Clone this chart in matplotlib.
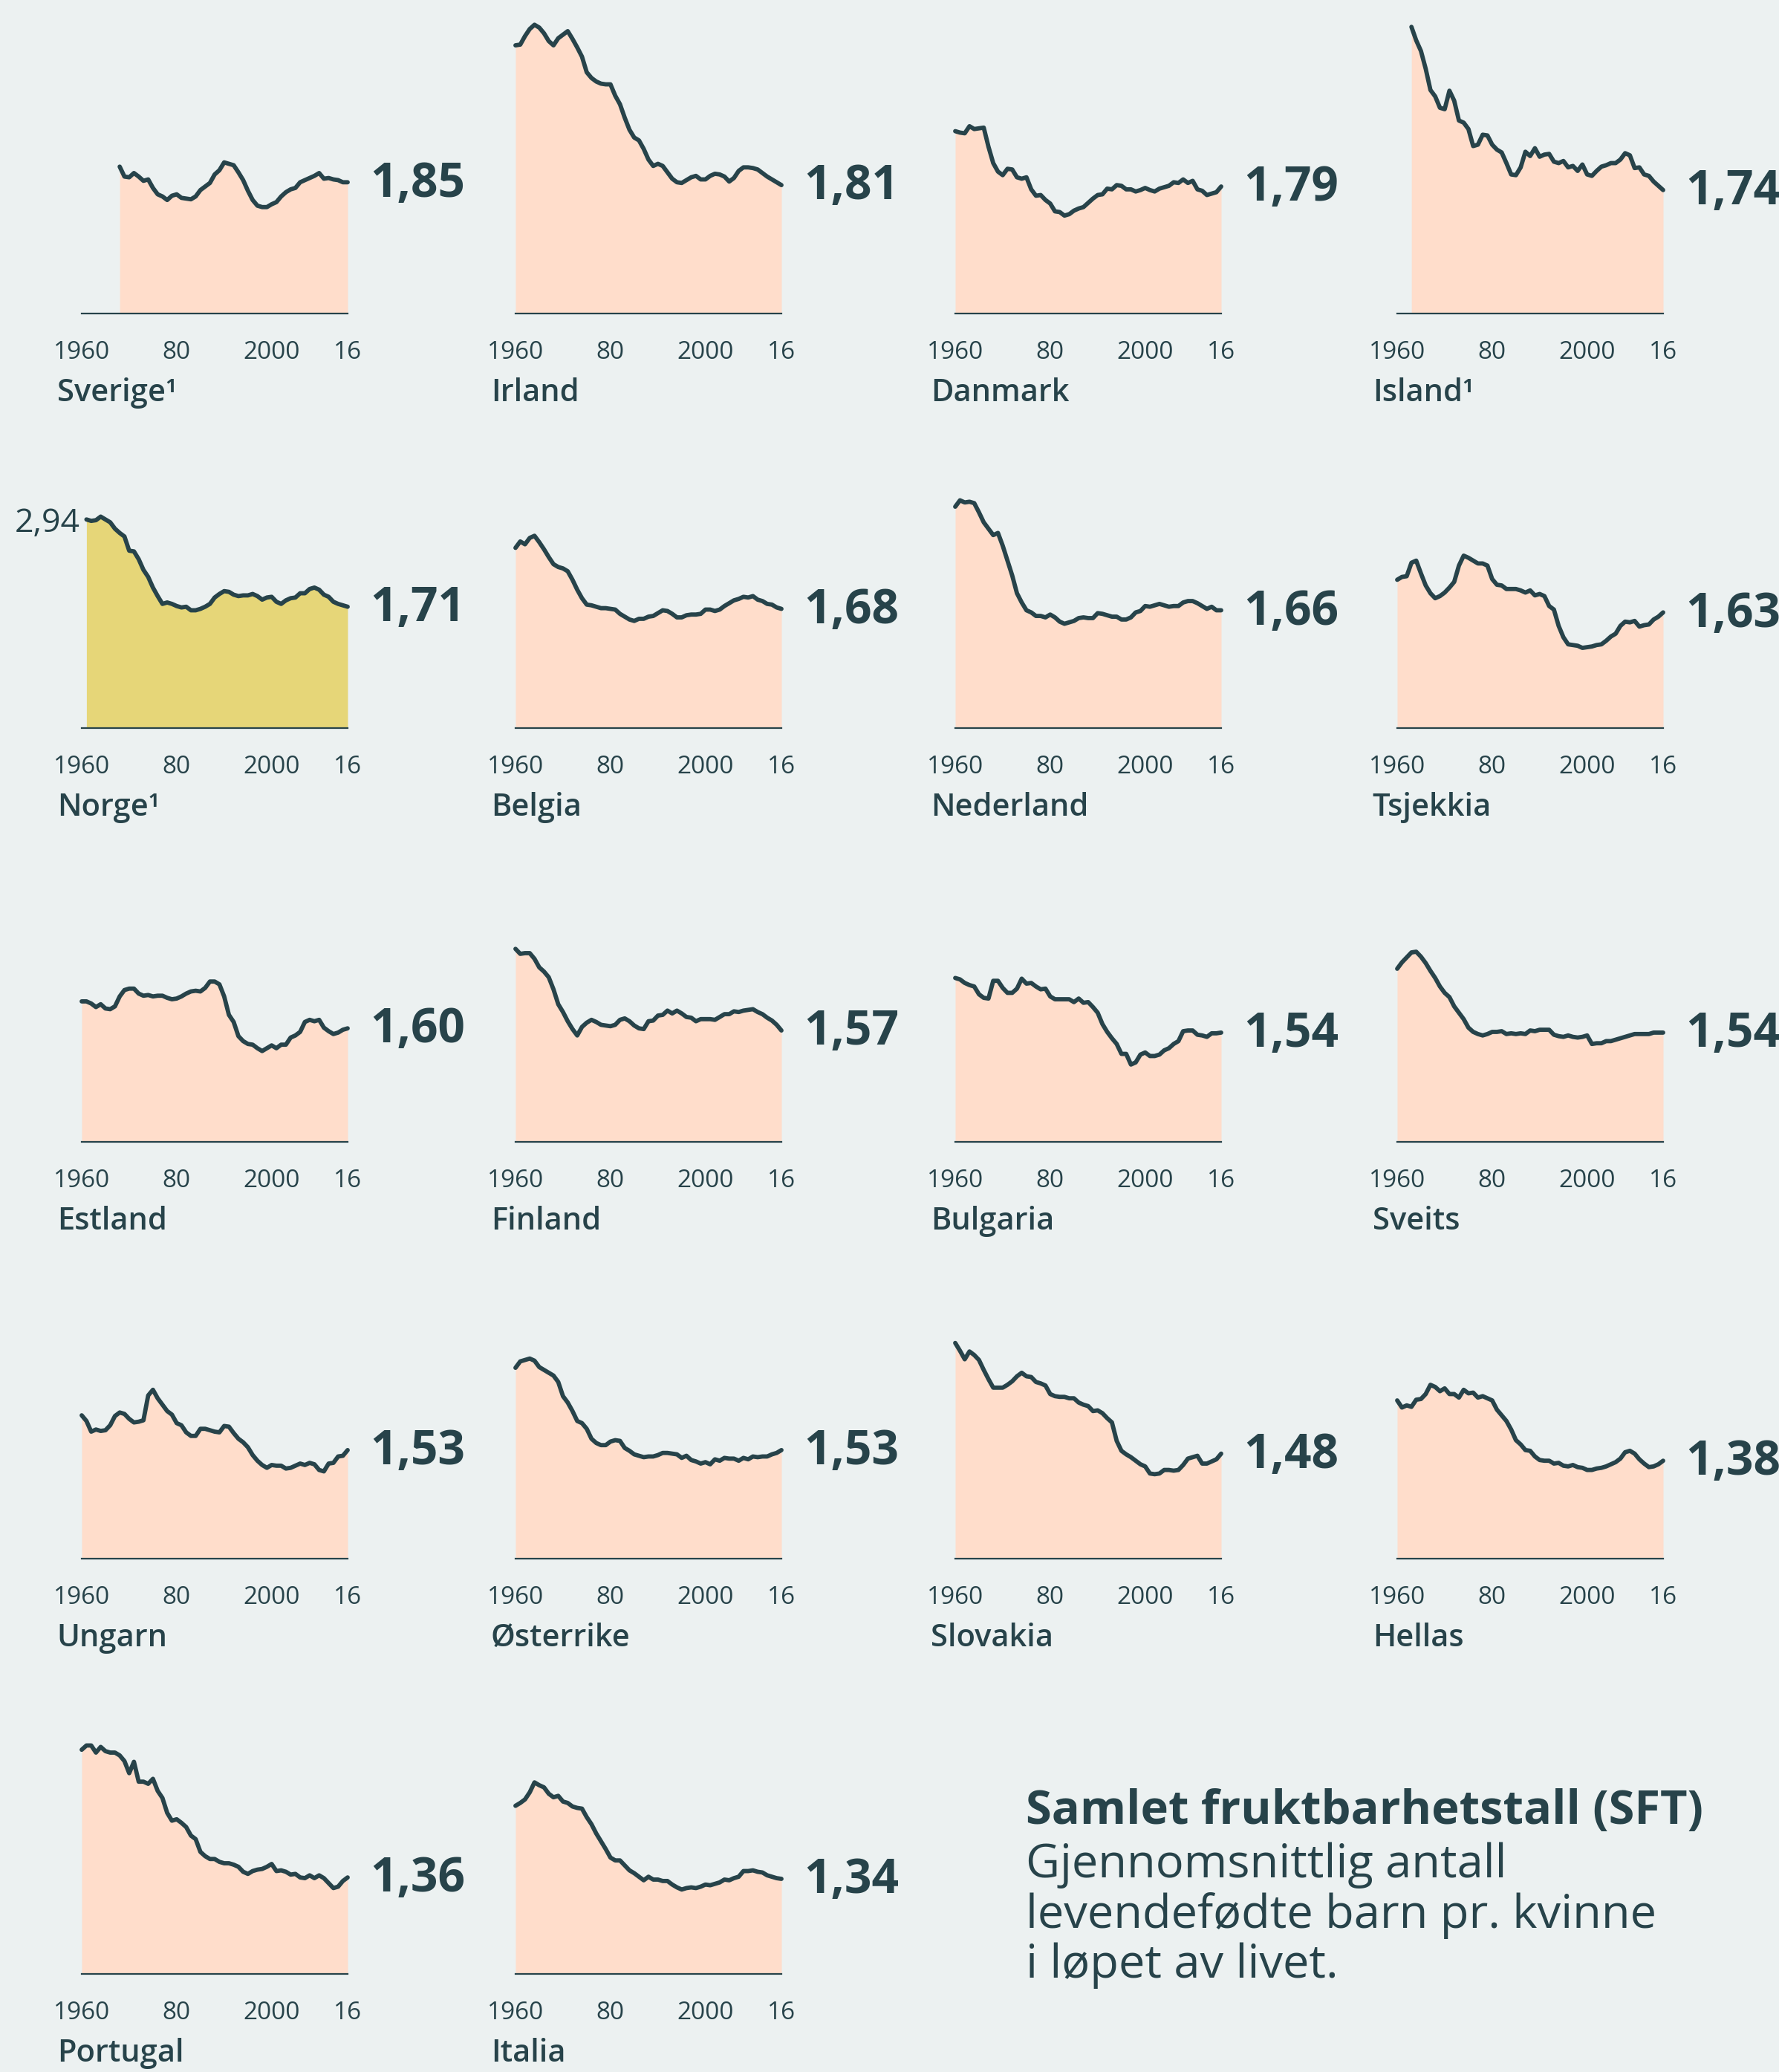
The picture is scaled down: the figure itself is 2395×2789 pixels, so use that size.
import matplotlib
matplotlib.use("Agg")
import matplotlib.pyplot as plt

# Samlet fruktbarhetstall (SFT), 1960-2016
countries = ["Sverige¹", "Irland", "Danmark", "Island¹",
             "Norge¹", "Belgia", "Nederland", "Tsjekkia",
             "Estland", "Finland", "Bulgaria", "Sveits",
             "Ungarn", "Østerrike", "Slovakia", "Hellas",
             "Portugal", "Italia"]

start_years = [1968, 1960, 1960, 1963,
               1961, 1960, 1960, 1960,
               1960, 1960, 1960, 1960,
               1960, 1960, 1960, 1960,
               1960, 1960]

sverige = [2.07, 1.93, 1.92, 1.98, 1.93, 1.87, 1.89, 1.77, 1.68, 1.65, 1.60, 1.66, 1.68,
           1.63, 1.62, 1.61, 1.65, 1.74, 1.79, 1.84, 1.96, 2.02, 2.13, 2.11, 2.09, 1.99,
           1.88, 1.73, 1.60, 1.52, 1.50, 1.50, 1.54, 1.57, 1.65, 1.71, 1.75, 1.77, 1.85,
           1.88, 1.91, 1.94, 1.98, 1.90, 1.91, 1.89, 1.88, 1.85, 1.85]
irland = [3.78, 3.79, 3.91, 4.01, 4.07, 4.03, 3.95, 3.84, 3.78, 3.88, 3.93, 3.98, 3.87,
          3.75, 3.62, 3.40, 3.32, 3.27, 3.24, 3.23, 3.23, 3.07, 2.95, 2.76, 2.59, 2.48,
          2.44, 2.32, 2.17, 2.08, 2.11, 2.08, 1.99, 1.90, 1.85, 1.84, 1.88, 1.92, 1.94,
          1.89, 1.89, 1.94, 1.97, 1.96, 1.93, 1.86, 1.91, 2.01, 2.06, 2.06, 2.05, 2.03,
          1.98, 1.93, 1.89, 1.85, 1.81]
danmark = [2.57, 2.55, 2.54, 2.64, 2.60, 2.61, 2.62, 2.35, 2.12, 2.00, 1.95, 2.04, 2.03,
           1.92, 1.90, 1.92, 1.75, 1.66, 1.67, 1.60, 1.55, 1.44, 1.43, 1.38, 1.40, 1.45,
           1.48, 1.50, 1.56, 1.62, 1.67, 1.68, 1.76, 1.75, 1.81, 1.80, 1.75, 1.75, 1.72,
           1.74, 1.77, 1.74, 1.72, 1.76, 1.78, 1.80, 1.85, 1.84, 1.89, 1.84, 1.87, 1.75,
           1.73, 1.67, 1.69, 1.71, 1.79]
island = [4.04, 3.85, 3.70, 3.45, 3.15, 3.06, 2.90, 2.88, 3.14, 3.00, 2.72, 2.69, 2.60,
          2.36, 2.38, 2.52, 2.51, 2.38, 2.31, 2.27, 2.12, 1.96, 1.95, 2.06, 2.28, 2.22,
          2.33, 2.21, 2.24, 2.25, 2.14, 2.12, 2.15, 2.06, 2.08, 2.01, 2.10, 1.96, 1.94,
          2.01, 2.07, 2.09, 2.12, 2.12, 2.17, 2.26, 2.23, 2.05, 2.06, 1.96, 1.94, 1.86,
          1.80, 1.74]
norge = [2.94, 2.92, 2.93, 2.98, 2.94, 2.90, 2.81, 2.75, 2.70, 2.50, 2.49, 2.38, 2.23,
         2.13, 1.98, 1.86, 1.75, 1.77, 1.75, 1.72, 1.70, 1.71, 1.66, 1.66, 1.68, 1.71,
         1.75, 1.84, 1.89, 1.93, 1.92, 1.88, 1.86, 1.87, 1.87, 1.89, 1.86, 1.81, 1.84,
         1.85, 1.78, 1.75, 1.80, 1.83, 1.84, 1.90, 1.90, 1.96, 1.98, 1.95, 1.88, 1.85,
         1.78, 1.75, 1.73, 1.71]
belgia = [2.54, 2.63, 2.59, 2.68, 2.71, 2.62, 2.52, 2.41, 2.31, 2.27, 2.25, 2.21, 2.09,
          1.95, 1.83, 1.74, 1.73, 1.71, 1.69, 1.69, 1.68, 1.67, 1.61, 1.57, 1.53, 1.51,
          1.54, 1.54, 1.57, 1.58, 1.62, 1.66, 1.65, 1.61, 1.56, 1.56, 1.59, 1.60, 1.60,
          1.61, 1.67, 1.67, 1.65, 1.67, 1.72, 1.76, 1.80, 1.82, 1.85, 1.84, 1.86, 1.81,
          1.79, 1.75, 1.74, 1.70, 1.68]
nederland = [3.12, 3.21, 3.18, 3.19, 3.17, 3.04, 2.90, 2.81, 2.72, 2.75, 2.57, 2.36, 2.15,
             1.90, 1.77, 1.66, 1.63, 1.58, 1.58, 1.56, 1.60, 1.56, 1.50, 1.47, 1.49, 1.51,
             1.55, 1.56, 1.55, 1.55, 1.62, 1.61, 1.59, 1.57, 1.57, 1.53, 1.53, 1.56, 1.63,
             1.65, 1.72, 1.71, 1.73, 1.75, 1.73, 1.71, 1.72, 1.72, 1.77, 1.79, 1.79, 1.76,
             1.72, 1.68, 1.71, 1.66, 1.66]
tsjekkia = [2.09, 2.13, 2.14, 2.33, 2.36, 2.18, 2.01, 1.90, 1.83, 1.86, 1.91, 1.98, 2.06,
            2.29, 2.43, 2.40, 2.36, 2.32, 2.32, 2.29, 2.10, 2.02, 2.01, 1.96, 1.96, 1.96,
            1.94, 1.91, 1.94, 1.87, 1.89, 1.86, 1.72, 1.67, 1.44, 1.28, 1.18, 1.17, 1.16,
            1.13, 1.14, 1.15, 1.17, 1.18, 1.23, 1.29, 1.33, 1.44, 1.50, 1.49, 1.51, 1.43,
            1.45, 1.46, 1.53, 1.57, 1.63]
estland = [1.98, 1.98, 1.95, 1.90, 1.94, 1.88, 1.87, 1.91, 2.05, 2.14, 2.16, 2.16, 2.09,
           2.06, 2.07, 2.05, 2.06, 2.06, 2.03, 2.01, 2.02, 2.05, 2.09, 2.12, 2.13, 2.12,
           2.17, 2.26, 2.26, 2.22, 2.05, 1.79, 1.69, 1.49, 1.42, 1.38, 1.37, 1.32, 1.28,
           1.32, 1.36, 1.32, 1.37, 1.37, 1.47, 1.50, 1.55, 1.69, 1.72, 1.70, 1.72, 1.61,
           1.56, 1.52, 1.54, 1.58, 1.60]
finland = [2.72, 2.65, 2.66, 2.66, 2.58, 2.46, 2.40, 2.32, 2.15, 1.94, 1.83, 1.70, 1.59,
           1.50, 1.62, 1.68, 1.72, 1.69, 1.65, 1.64, 1.63, 1.65, 1.72, 1.74, 1.70, 1.64,
           1.60, 1.59, 1.70, 1.71, 1.78, 1.79, 1.85, 1.81, 1.85, 1.81, 1.76, 1.75, 1.70,
           1.73, 1.73, 1.73, 1.72, 1.76, 1.80, 1.80, 1.84, 1.83, 1.85, 1.86, 1.87, 1.83,
           1.80, 1.75, 1.71, 1.65, 1.57]
bulgaria = [2.31, 2.29, 2.24, 2.21, 2.19, 2.08, 2.03, 2.02, 2.27, 2.27, 2.17, 2.10, 2.10,
            2.16, 2.30, 2.23, 2.24, 2.19, 2.15, 2.16, 2.05, 2.01, 2.01, 2.01, 2.01, 1.97,
            2.02, 1.96, 1.97, 1.90, 1.82, 1.66, 1.55, 1.46, 1.38, 1.24, 1.24, 1.09, 1.12,
            1.23, 1.26, 1.21, 1.21, 1.23, 1.29, 1.32, 1.38, 1.42, 1.56, 1.57, 1.57, 1.51,
            1.50, 1.48, 1.53, 1.53, 1.54]
sveits = [2.44, 2.53, 2.60, 2.67, 2.68, 2.61, 2.52, 2.41, 2.31, 2.19, 2.10, 2.04, 1.91,
          1.82, 1.73, 1.61, 1.55, 1.52, 1.50, 1.52, 1.55, 1.55, 1.56, 1.52, 1.53, 1.52,
          1.53, 1.52, 1.57, 1.56, 1.58, 1.58, 1.58, 1.51, 1.49, 1.48, 1.50, 1.48, 1.47,
          1.48, 1.50, 1.38, 1.39, 1.39, 1.42, 1.42, 1.44, 1.46, 1.48, 1.50, 1.52, 1.52,
          1.52, 1.52, 1.54, 1.54, 1.54]
ungarn = [2.02, 1.94, 1.79, 1.82, 1.80, 1.81, 1.88, 2.01, 2.06, 2.04, 1.97, 1.92, 1.93,
          1.95, 2.30, 2.38, 2.26, 2.17, 2.08, 2.03, 1.91, 1.88, 1.78, 1.73, 1.73, 1.83,
          1.83, 1.81, 1.79, 1.78, 1.87, 1.86, 1.77, 1.69, 1.64, 1.57, 1.46, 1.38, 1.32,
          1.28, 1.32, 1.31, 1.31, 1.27, 1.28, 1.31, 1.34, 1.32, 1.35, 1.33, 1.25, 1.23,
          1.34, 1.35, 1.44, 1.45, 1.53]
osterrike = [2.69, 2.78, 2.80, 2.82, 2.79, 2.70, 2.66, 2.62, 2.58, 2.49, 2.29, 2.20, 2.08,
             1.94, 1.91, 1.83, 1.69, 1.63, 1.60, 1.60, 1.65, 1.67, 1.66, 1.56, 1.52, 1.47,
             1.45, 1.43, 1.44, 1.44, 1.46, 1.49, 1.49, 1.48, 1.47, 1.42, 1.45, 1.39, 1.37,
             1.34, 1.36, 1.33, 1.40, 1.38, 1.42, 1.41, 1.41, 1.38, 1.42, 1.40, 1.44, 1.43,
             1.44, 1.44, 1.47, 1.49, 1.53]
slovakia = [3.04, 2.93, 2.81, 2.92, 2.87, 2.80, 2.66, 2.53, 2.41, 2.41, 2.41, 2.45, 2.50,
            2.57, 2.62, 2.57, 2.56, 2.49, 2.47, 2.44, 2.32, 2.29, 2.28, 2.28, 2.26, 2.26,
            2.20, 2.17, 2.15, 2.08, 2.09, 2.05, 1.98, 1.92, 1.66, 1.52, 1.47, 1.43, 1.38,
            1.33, 1.30, 1.20, 1.19, 1.20, 1.25, 1.25, 1.24, 1.25, 1.32, 1.41, 1.43, 1.45,
            1.34, 1.34, 1.37, 1.40, 1.48]
hellas = [2.23, 2.13, 2.16, 2.14, 2.24, 2.25, 2.32, 2.45, 2.42, 2.36, 2.40, 2.32, 2.32,
          2.27, 2.38, 2.33, 2.34, 2.27, 2.29, 2.26, 2.23, 2.10, 2.02, 1.94, 1.82, 1.67,
          1.61, 1.53, 1.52, 1.44, 1.39, 1.38, 1.38, 1.34, 1.35, 1.31, 1.30, 1.32, 1.29,
          1.28, 1.25, 1.25, 1.27, 1.28, 1.30, 1.33, 1.36, 1.41, 1.50, 1.52, 1.48, 1.40,
          1.34, 1.29, 1.30, 1.33, 1.38]
portugal = [3.16, 3.22, 3.22, 3.12, 3.20, 3.14, 3.12, 3.12, 3.08, 3.00, 2.83, 2.99, 2.71,
            2.71, 2.68, 2.75, 2.58, 2.48, 2.27, 2.16, 2.18, 2.13, 2.07, 1.95, 1.90, 1.72,
            1.66, 1.62, 1.62, 1.58, 1.56, 1.56, 1.54, 1.51, 1.44, 1.41, 1.45, 1.47, 1.48,
            1.51, 1.55, 1.45, 1.46, 1.44, 1.40, 1.41, 1.36, 1.35, 1.39, 1.35, 1.39, 1.35,
            1.28, 1.21, 1.23, 1.31, 1.36]
italia = [2.37, 2.41, 2.46, 2.56, 2.70, 2.66, 2.63, 2.54, 2.49, 2.51, 2.43, 2.41, 2.36,
          2.34, 2.33, 2.21, 2.11, 1.98, 1.87, 1.76, 1.64, 1.60, 1.60, 1.53, 1.46, 1.42,
          1.37, 1.32, 1.37, 1.33, 1.33, 1.31, 1.31, 1.26, 1.22, 1.19, 1.21, 1.22, 1.21,
          1.23, 1.26, 1.25, 1.27, 1.29, 1.33, 1.32, 1.35, 1.37, 1.45, 1.45, 1.46, 1.44,
          1.43, 1.39, 1.37, 1.35, 1.34]

series = [sverige, irland, danmark, island, norge, belgia, nederland, tsjekkia,
          estland, finland, bulgaria, sveits, ungarn, osterrike, slovakia, hellas,
          portugal, italia]

tick_years = [1960, 1980, 2000, 2016]
tick_labels = ["1960", "80", "2000", "16"]

title = "Samlet fruktbarhetstall (SFT)"
subtitle = ["Gjennomsnittlig antall", "levendefødte barn pr. kvinne", "i løpet av livet."]

# colours
bg = "#ECF1F1"
peach = "#FFDDCB"
yellow = "#E6D678"
dark = "#27434A"

plt.rcParams['font.family'] = ['Open Sans', 'DejaVu Sans']

W, H = 2395, 2789
fig = plt.figure(figsize=(W / 100, H / 100), dpi=100, facecolor=bg)

col_left = [110, 694, 1286, 1881]        # px, position of 1960
row_base = [422, 980, 1537, 2098, 2657]  # px from top, baseline
panel_w = 358
px_per_unit = 95.5
ymax = 4.4
panel_h = ymax * px_per_unit

for i, (name, vals, y0) in enumerate(zip(countries, series, start_years)):
    r, c = divmod(i, 4)
    ax = fig.add_axes([col_left[c] / W, (H - row_base[r]) / H, panel_w / W, panel_h / H])
    ax.set_facecolor("none")
    yrs = list(range(y0, y0 + len(vals)))
    fill = yellow if name.startswith("Norge") else peach
    ax.fill_between(yrs, 0, vals, color=fill, lw=0, zorder=1)
    ax.plot(yrs, vals, color=dark, lw=4.2, solid_joinstyle="round",
            solid_capstyle="round", zorder=3, clip_on=False)
    ax.set_xlim(1960, 2016)
    ax.set_ylim(0, ymax)
    for s in ["top", "left", "right"]:
        ax.spines[s].set_visible(False)
    ax.spines["bottom"].set_color(dark)
    ax.spines["bottom"].set_linewidth(1.6)
    ax.spines["bottom"].set_zorder(4)
    ax.set_yticks([])
    ax.set_xticks(tick_years, tick_labels)
    ax.tick_params(axis="x", length=0, pad=26, labelsize=24, labelcolor=dark)

    label = f"{vals[-1]:.2f}".replace(".", ",")
    ax.annotate(label, xy=(yrs[-1], vals[-1]), xytext=(22, -2), textcoords="offset points",
                ha="left", va="center", fontsize=46, fontweight="bold", color=dark)
    ax.annotate(name, xy=(1960, 0), xytext=(-24, -77), textcoords="offset points",
                ha="left", va="center", fontsize=30, fontweight="semibold", color=dark,
                annotation_clip=False)
    if name.startswith("Norge"):
        ax.annotate(f"{vals[0]:.2f}".replace(".", ","), xy=(yrs[0], vals[0]),
                    xytext=(-6, -4), textcoords="offset points", ha="right", va="center",
                    fontsize=32, color=dark)

# explanation text
x0 = 1381 / W
fig.text(x0, 1 - 2455 / H, title, fontsize=45.5, fontweight="bold", color=dark, va="baseline")
for k, line in enumerate(subtitle):
    fig.text(x0, 1 - (2527 + 67.5 * k) / H, line, fontsize=45.5, color=dark, va="baseline")

fig.savefig("out.png", dpi=100, facecolor=bg)
